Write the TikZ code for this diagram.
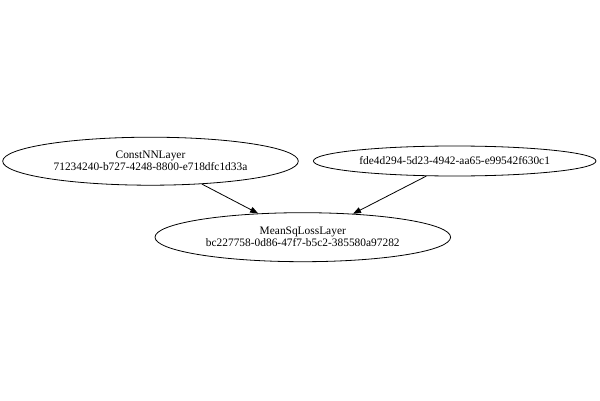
\documentclass[tikz,border=0pt]{standalone}
\usepackage{fontspec}
\setmainfont{Liberation Serif}
\usetikzlibrary{shapes.geometric,arrows.meta}
\tikzset{
  layer/.style={draw=black, ellipse, inner sep=0pt, line width=0.8pt, align=center,
    font=\fontsize{11.4}{12}\selectfont},
  edge/.style={draw=black, line width=0.8pt, -{Triangle[length=8pt,width=6pt]}}
}
\begin{document}
\begin{tikzpicture}[x=1pt,y=1pt]
\fill[white] (0,0) rectangle (600,400);
\useasboundingbox (0,0) rectangle (600,400);
\node[layer, minimum width=295.6pt, minimum height=48pt] (a) at (150.5,238.8) {ConstNNLayer\\71234240-b727-4248-8800-e718dfc1d33a};
\node[layer, minimum width=282.6pt, minimum height=30pt] (b) at (454.7,239) {fde4d294-5d23-4942-aa65-e99542f630c1};
\node[layer, minimum width=295.6pt, minimum height=49pt] (c) at (302.8,162.8) {MeanSqLossLayer\\bc227758-0d86-47f7-b5c2-385580a97282};
\draw[edge] (a.-24) -- (c.152);
\draw[edge] (b.-152) -- (c.25);
\end{tikzpicture}
\end{document}
